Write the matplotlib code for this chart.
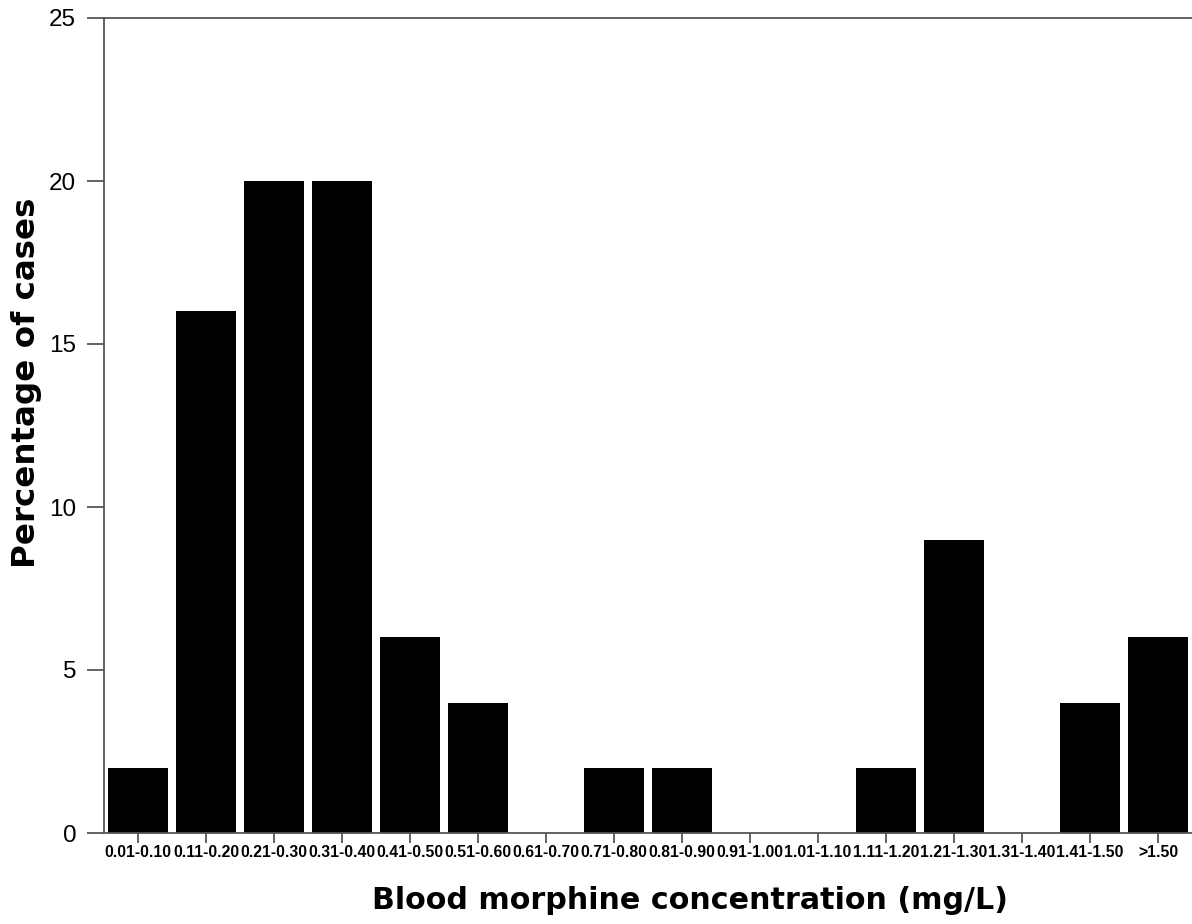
import matplotlib
matplotlib.use("Agg")
import matplotlib.pyplot as plt
import numpy as np

categories = ["0.01-0.10", "0.11-0.20", "0.21-0.30", "0.31-0.40", "0.41-0.50",
              "0.51-0.60", "0.61-0.70", "0.71-0.80", "0.81-0.90", "0.91-1.00",
              "1.01-1.10", "1.11-1.20", "1.21-1.30", "1.31-1.40", "1.41-1.50", ">1.50"]
percentages = [2, 16, 20, 20, 6, 4, 0, 2, 2, 0, 0, 2, 9, 0, 4, 6]
yticks = [0, 5, 10, 15, 20, 25]

plt.rcParams['font.family'] = ['Liberation Sans', 'DejaVu Sans']

fig = plt.figure(figsize=(11.92, 9.24), dpi=100)
ax = fig.add_axes([104/1192, 1 - 833/924, 1 - 104/1192, (833 - 18)/924])

x = np.arange(len(categories))
ax.bar(x, percentages, width=0.88, color='black', edgecolor='none')

ax.set_xlim(-0.5, len(categories) - 0.5)
ax.set_ylim(0, 25)
ax.set_yticks(yticks)
ax.set_yticklabels([str(t) for t in yticks], fontsize=17.5)
ax.set_xticks(x)
ax.set_xticklabels(categories, fontsize=11.3, fontweight='bold')

ax.spines['right'].set_visible(False)
for s in ['left', 'top', 'bottom']:
    ax.spines[s].set_color('#555555')
    ax.spines[s].set_linewidth(1.3)

ax.tick_params(axis='y', direction='out', length=12, width=1.3, color='#555555', pad=8)
ax.tick_params(axis='x', direction='out', length=7, width=1.3, color='#555555', pad=1.5)

ax.set_xlabel("Blood morphine concentration (mg/L)", fontsize=21.7, fontweight='bold',
              family=['DejaVu Sans'])
ax.set_ylabel("Percentage of cases", fontsize=23.4, fontweight='bold',
              family=['DejaVu Sans'])
ax.xaxis.set_label_coords(0.5386, -0.065)
ax.yaxis.set_label_coords(-0.057, 0.552)

fig.savefig("out.png", dpi=100)
